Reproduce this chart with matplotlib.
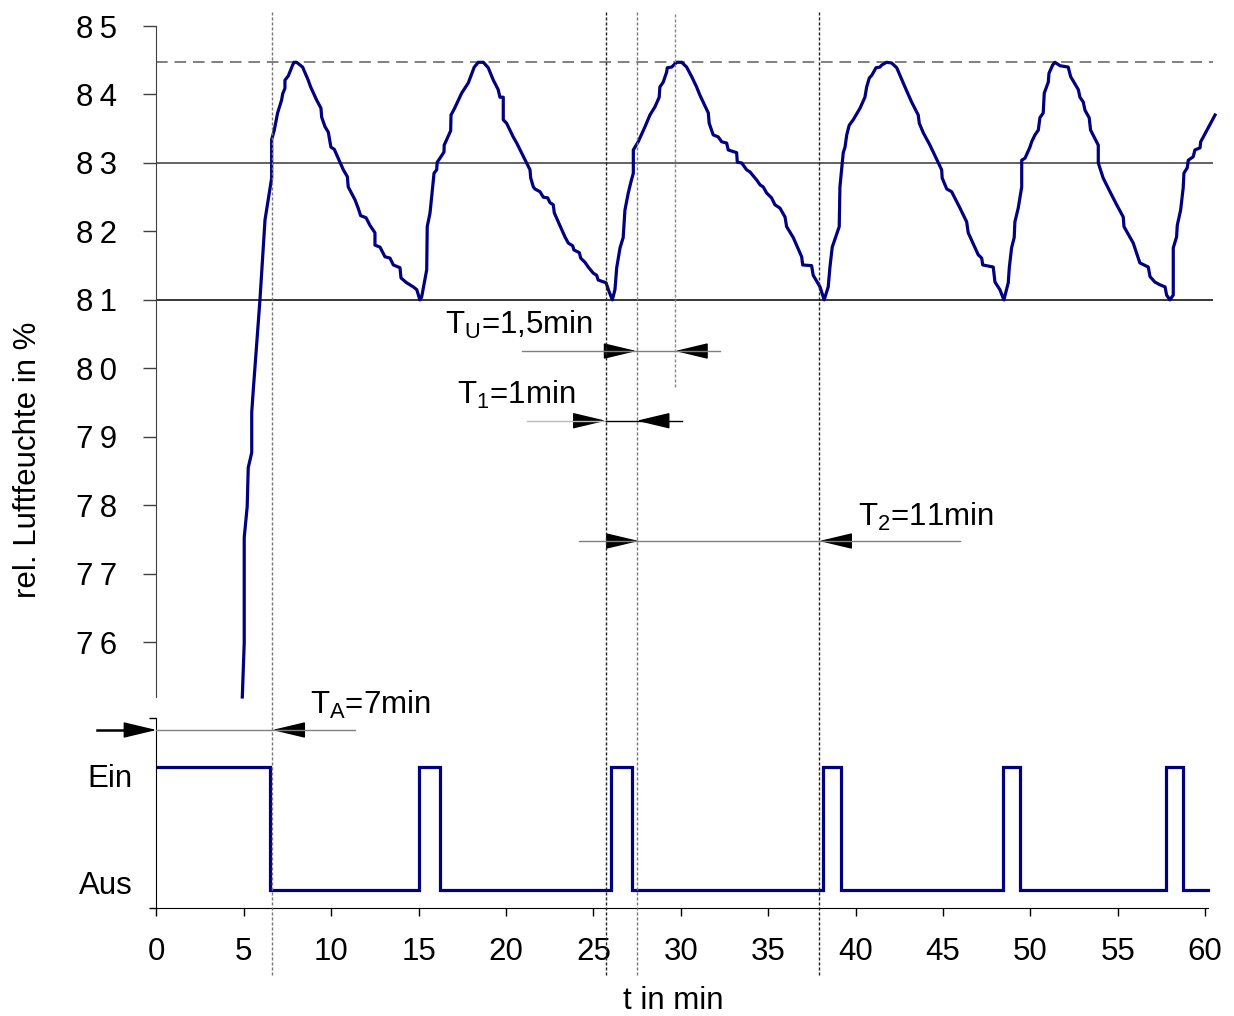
import matplotlib
matplotlib.use("Agg")
import matplotlib.pyplot as plt
from matplotlib.lines import Line2D
from matplotlib.transforms import blended_transform_factory

plt.rcParams["font.family"] = ["Liberation Sans", "DejaVu Sans"]
plt.rcParams["mathtext.fontset"] = "custom"
plt.rcParams["mathtext.rm"] = "Liberation Sans"

# relative humidity curve (t in min, rH in %)
rh_time = [
    4.91, 5.02, 5.02, 5.19, 5.25, 5.45, 5.45, 5.54, 5.92, 6.21, 6.59, 6.59, 6.74, 6.93, 7.16, 7.22,
    7.35, 7.35, 7.54, 7.79, 7.87, 8.02,
    8.36, 8.68, 8.82, 9.16, 9.41, 9.45, 9.64, 9.83, 9.98, 10.17, 10.50, 10.69, 10.92, 10.97, 11.36,
    11.54, 11.68, 11.99, 12.21, 12.50, 12.50, 12.79, 13.07, 13.36, 13.55, 13.93, 13.99, 14.31, 14.69,
    14.89, 15.07,
    15.17, 15.46, 15.49, 15.65, 15.80, 15.88, 16.03, 16.06, 16.22, 16.45, 16.46, 16.83, 16.85, 17.04,
    17.46, 17.84, 18.18, 18.41, 18.70,
    18.98, 19.27, 19.55, 19.65, 19.84, 19.84, 20.03, 20.41, 20.61, 21.18, 21.37, 21.41, 21.56, 21.65,
    21.94, 22.13, 22.38, 22.51, 22.70, 22.76, 23.37, 23.56, 23.81, 23.88, 24.19, 24.27, 24.51, 24.70,
    24.99, 25.18, 25.27, 25.72, 25.85, 26.08,
    26.23, 26.33, 26.52, 26.70, 26.80, 26.99, 27.13, 27.28, 27.28, 27.56, 27.95, 28.23, 28.52, 28.76,
    28.80, 28.99, 29.19, 29.22, 29.47, 29.76, 30.05,
    30.33, 30.62, 30.90, 31.09, 31.57, 31.62, 31.85, 32.14, 32.33, 32.62, 32.71, 33.19, 33.23, 33.48,
    33.76, 33.95, 34.34, 34.53, 34.71, 34.91, 35.19, 35.38, 35.67, 35.96, 36.05, 36.43, 36.91, 36.97,
    37.48, 37.57, 37.96, 38.20,
    38.43, 38.53, 38.66, 39.06, 39.10, 39.29, 39.39, 39.49, 39.63, 39.86, 40.25, 40.53, 40.63, 40.78,
    40.92, 41.10, 41.16, 41.39, 41.49, 41.77, 42.06,
    42.35, 42.82, 43.20, 43.58, 43.64, 43.87, 44.25, 44.73, 44.92, 44.95, 45.21, 45.49, 45.97, 46.35,
    46.44, 47.01, 47.21, 47.27, 47.87, 47.97, 48.25, 48.48,
    48.73, 48.79, 48.92, 49.07, 49.11, 49.30, 49.50, 49.50, 49.69, 49.97, 50.07, 50.26, 50.45, 50.54,
    50.73, 50.79, 51.02, 51.06, 51.27, 51.40,
    51.69, 52.16, 52.30, 52.74, 52.83, 53.02, 53.12, 53.36, 53.44, 53.88, 53.88, 54.16, 54.55, 54.93,
    55.31, 55.35, 55.88, 56.17, 56.26, 56.74, 56.84, 57.12, 57.41, 57.70, 57.79, 57.98,
    58.17, 58.17, 58.36, 58.40, 58.59, 58.74, 58.78, 58.97, 59.03, 59.31, 59.41, 59.70, 59.74, 59.89,
    60.56,
]
rh_value = [
    75.20, 75.99, 77.53, 77.98, 78.55, 78.77, 79.36, 79.69, 81.00, 82.17, 82.78, 83.34, 83.48, 83.73,
    83.92, 84.01, 84.09, 84.21, 84.27, 84.43, 84.47, 84.47,
    84.40, 84.21, 84.11, 83.92, 83.80, 83.67, 83.53, 83.45, 83.23, 83.20, 83.01, 82.90, 82.80, 82.65,
    82.46, 82.34, 82.23, 82.20, 82.09, 81.98, 81.80, 81.77, 81.63, 81.61, 81.51, 81.47, 81.32, 81.25,
    81.19, 81.15, 81.00,
    81.04, 81.44, 82.07, 82.27, 82.65, 82.85, 82.90, 83.01, 83.07, 83.16, 83.26, 83.47, 83.70, 83.79,
    84.02, 84.17, 84.40, 84.47, 84.47,
    84.39, 84.21, 84.07, 83.96, 83.96, 83.63, 83.58, 83.38, 83.29, 83.00, 82.90, 82.78, 82.65, 82.62,
    82.58, 82.50, 82.49, 82.42, 82.39, 82.27, 81.92, 81.83, 81.79, 81.73, 81.69, 81.61, 81.55, 81.48,
    81.39, 81.36, 81.29, 81.25, 81.15, 81.00,
    81.15, 81.47, 81.76, 81.91, 82.31, 82.56, 82.71, 82.85, 83.19, 83.31, 83.53, 83.70, 83.82, 83.96,
    84.11, 84.18, 84.33, 84.39, 84.40, 84.47, 84.47,
    84.40, 84.26, 84.11, 83.99, 83.73, 83.58, 83.41, 83.38, 83.31, 83.29, 83.19, 83.15, 83.01, 83.00,
    82.90, 82.87, 82.75, 82.68, 82.65, 82.56, 82.49, 82.39, 82.34, 82.21, 82.07, 81.91, 81.63, 81.51,
    81.50, 81.36, 81.19, 81.00,
    81.19, 81.48, 81.77, 82.07, 82.65, 83.15, 83.23, 83.41, 83.55, 83.63, 83.80, 83.96, 84.11, 84.24,
    84.28, 84.36, 84.39, 84.40, 84.43, 84.47, 84.46,
    84.39, 84.11, 83.89, 83.70, 83.58, 83.44, 83.26, 83.00, 82.90, 82.78, 82.62, 82.58, 82.34, 82.14,
    81.98, 81.66, 81.61, 81.51, 81.48, 81.26, 81.15, 81.00,
    81.25, 81.47, 81.76, 81.91, 82.14, 82.34, 82.65, 83.04, 83.07, 83.23, 83.31, 83.41, 83.48, 83.66,
    83.73, 84.02, 84.18, 84.31, 84.43, 84.47,
    84.42, 84.40, 84.26, 84.07, 83.96, 83.89, 83.77, 83.66, 83.48, 83.26, 83.00, 82.78, 82.58, 82.39,
    82.21, 82.07, 81.83, 81.61, 81.54, 81.48, 81.34, 81.26, 81.22, 81.19, 81.07, 81.00,
    81.07, 81.76, 81.92, 82.09, 82.31, 82.64, 82.85, 82.93, 83.04, 83.09, 83.19, 83.22, 83.31, 83.38,
    83.70,
]

# switching signal: (on, off) times in min
on_intervals = [(0.0, 6.5), (15.02, 16.22), (26.0, 27.19), (38.15, 39.16), (48.44, 49.40), (57.73, 58.71)]
signal_end = 60.15

rh_upper = 84.47
rh_setpoint = 83.0
rh_lower = 81.0

y_ticks = [76, 77, 78, 79, 80, 81, 82, 83, 84, 85]
x_ticks = list(range(0, 61, 5))

# marker times for the dotted helper lines
t_marks = [6.62, 25.71, 27.47, 29.66, 37.91]

navy = "#000080"
fs = 22.5

fig = plt.figure(figsize=(12.34, 10.16), dpi=100)
ax1 = fig.add_axes([0.1268, 0.3140, 0.8584, 0.6604])
ax2 = fig.add_axes([0.1268, 0.1063, 0.8584, 0.1870])

# upper panel
ax1.plot(rh_time, rh_value, color=navy, lw=2.3, clip_on=False, zorder=3)
ax1.hlines(rh_upper, 0, 60.45, color="#808080", lw=1.4, linestyles=(0, (6, 3.5)))
ax1.hlines(rh_setpoint, 0, 60.45, color="#555555", lw=1.3)
ax1.hlines(rh_lower, 0, 60.45, color="black", lw=1.1)
ax1.set_xlim(0, 60.6)
ax1.set_ylim(75.2, 85.0)
for side in ["top", "right", "bottom"]:
    ax1.spines[side].set_visible(False)
ax1.spines["left"].set_color("#404040")
ax1.xaxis.set_visible(False)
ax1.set_yticks(y_ticks)
ax1.set_yticklabels([f"{v // 10}\u2009{v % 10}" for v in y_ticks], fontsize=fs)
ax1.tick_params(axis="y", direction="out", length=9.5, width=1, color="#404040", pad=19)

# lower panel: switch state
sig_t, sig_y = [], []
for start, stop in on_intervals:
    if sig_t:
        sig_t += [start, start]
        sig_y += [0, 1]
    else:
        sig_t += [start]
        sig_y += [1]
    sig_t += [stop, stop]
    sig_y += [1, 0]
sig_t.append(signal_end)
sig_y.append(0)
ax2.plot(sig_t, sig_y, color=navy, lw=2.3, solid_joinstyle="miter")
ax2.set_xlim(0, 60.6)
ax2.set_ylim(-0.151, 1.40)
for side in ["top", "right"]:
    ax2.spines[side].set_visible(False)
ax2.spines["bottom"].set_bounds(0, signal_end)
ax2.set_xticks(x_ticks)
ax2.set_xticklabels([str(v) for v in x_ticks], fontsize=fs)
ax2.tick_params(axis="x", direction="out", length=6, width=1, pad=15)
ax2.set_yticks([0.06, 0.93])
ax2.set_yticklabels(["Aus", "Ein"], fontsize=fs)
ax2.tick_params(axis="y", which="major", length=0, pad=17)
ax2.set_yticks([-0.151, 1.40], minor=True)
ax2.tick_params(axis="y", which="minor", direction="out", length=5, width=1)

# helper lines in figure coordinates (x = time)
trans = blended_transform_factory(ax2.transData, fig.transFigure)
mark_colors = ["#777777", "#222222", "#777777", "#888888", "#222222"]
mark_bottoms = [0.040, 0.040, 0.040, 0.619, 0.040]
for t, c, b in zip(t_marks, mark_colors, mark_bottoms):
    fig.add_artist(Line2D([t, t], [b, 0.988], transform=trans, color=c, lw=1,
                          linestyle=(0, (2.2, 1.4)), zorder=5))


def dim_line(x0, x1, y, color="#808080", lw=1.0):
    fig.add_artist(Line2D([x0, x1], [y, y], transform=trans, color=color, lw=lw, zorder=6))


def head(base, tip, y):
    ax2.annotate("", xy=(tip, y), xycoords=trans, xytext=(base, y), textcoords=trans,
                 arrowprops=dict(arrowstyle="-|>,head_length=2.1,head_width=0.5",
                                 mutation_scale=10, color="black", lw=1,
                                 shrinkA=0, shrinkB=0),
                 annotation_clip=False)


# T_U
y_u = 0.6545
dim_line(20.91, 32.24, y_u)
head(25.94, 27.47, y_u)
head(31.40, 29.66, y_u)
fig.text(16.50, 0.6713, r"T$_{\mathregular{U}}$=1,5min", transform=trans, fontsize=fs, va="baseline")

# T_1
y_1 = 0.5859
dim_line(21.20, 25.71, y_1, color="#bbbbbb")
dim_line(25.71, 30.05, y_1, color="black")
head(24.04, 25.71, y_1)
head(28.88, 27.47, y_1)
fig.text(17.19, 0.6024, r"T$_{\mathregular{1}}$=1min", transform=trans, fontsize=fs, va="baseline")

# T_2
y_2 = 0.4675
dim_line(24.17, 45.97, y_2)
head(26.17, 27.60, y_2)
head(39.67, 37.91, y_2)
fig.text(40.13, 0.4823, r"T$_{\mathregular{2}}$=11min", transform=trans, fontsize=fs, va="baseline")

# T_A
y_a = 0.2815
dim_line(-3.41, -1.69, y_a, color="black", lw=1.8)
dim_line(0.0, 11.36, y_a)
head(-1.69, 0.0, y_a)
head(8.32, 6.62, y_a)
fig.text(8.78, 0.2972, r"T$_{\mathregular{A}}$=7min", transform=trans, fontsize=fs, va="baseline")

fig.text(28 / 1234, 1 - 460 / 1016, "rel. Luftfeuchte in %", rotation=90,
         ha="center", va="center", fontsize=fs)
fig.text(673 / 1234, 1 - 1001 / 1016, "t in min", ha="center", va="center", fontsize=fs)

fig.savefig("out.png", dpi=100)
